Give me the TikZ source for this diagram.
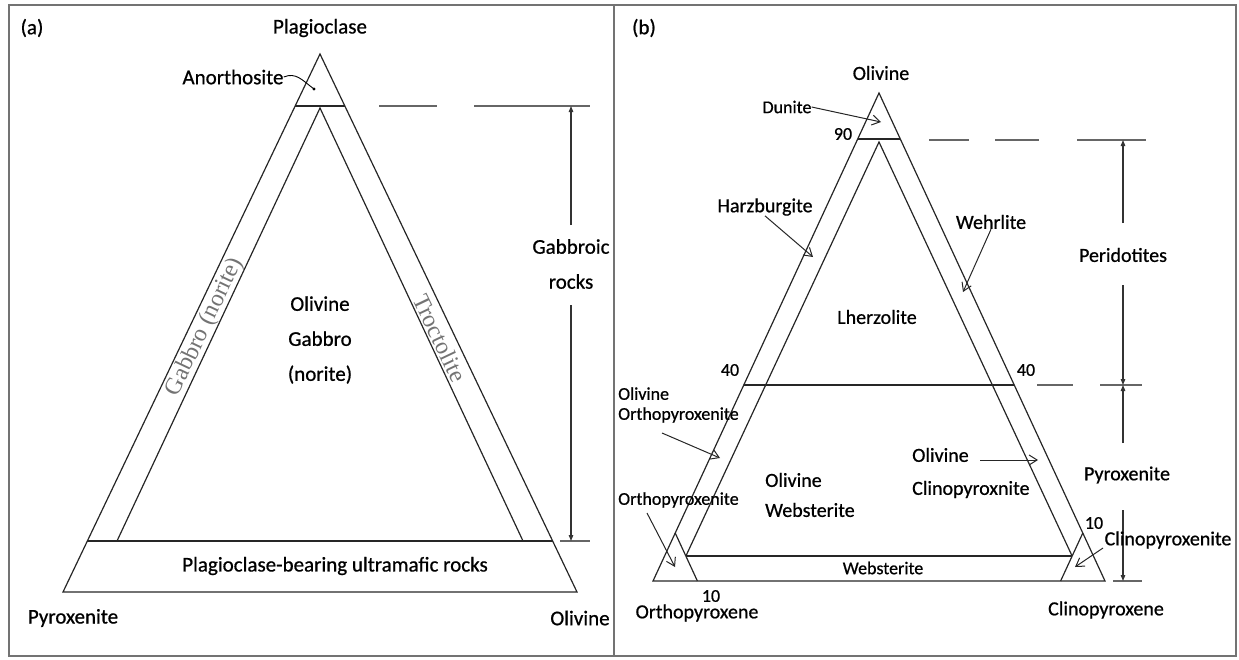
\documentclass[tikz,border=0pt]{standalone}
\usepackage{fontspec}
\setmainfont{Carlito}[FakeBold=0.7]
\newfontfamily\tnr{Liberation Serif}
\usetikzlibrary{arrows.meta}
\begin{document}
\begin{tikzpicture}[x=1pt,y=-1pt,
  tri/.style={draw=black!85, line width=1.2pt, line join=miter},
  frm/.style={draw=black!55, line width=1.6pt},
  lblA/.style={font=\fontsize{21}{35}\selectfont, inner sep=0pt, align=center},
  lblB/.style={font=\fontsize{20}{23}\selectfont, inner sep=0pt},
  lblS/.style={font=\fontsize{18}{20}\selectfont, inner sep=0pt},
  rot/.style={font=\tnr\fontsize{24}{26}\selectfont, text=black!55, inner sep=0pt},
  dim/.style={draw=black!80, line width=1.1pt},
  dimtip/.style={dim, -{Triangle[length=6pt,width=4.5pt]}},
  barb/.style={draw=black!85, line width=1pt, -{Straight Barb[length=8pt,width=10pt]}},
  dsh/.style={draw=black!60, line width=1.4pt},
]
\useasboundingbox (0,0) rectangle (1239,659);
% frames
\draw[frm] (9,5) rectangle (614,656);
\draw[frm] (614,5) rectangle (1236,656);

% ---------------- (a) ----------------
\coordinate (aA) at (320,54);
\coordinate (aL) at (63,592);
\coordinate (aR) at (577,592);
\coordinate (acL) at (295.2,106);
\coordinate (acR) at (344.8,106);
\coordinate (abL) at (87.4,541);
\coordinate (abR) at (552.6,541);
\coordinate (aiA) at (320,108);
\coordinate (aiL) at (117,541);
\coordinate (aiR) at (523,541);
\draw[tri] (aA) -- (aL) -- (aR) -- cycle;
\draw[tri] (acL) -- (acR);
\draw[tri] (abL) -- (abR);
\draw[tri] (aiL) -- (aiA) -- (aiR);
% dashed guide
\coordinate (ad1a) at (379,106); \coordinate (ad1b) at (437,106);
\coordinate (ad2a) at (474,106); \coordinate (ad2b) at (590,106);
\draw[dsh] (ad1a) -- (ad1b);
\draw[dsh] (ad2a) -- (ad2b);
\coordinate (ak1) at (560,541); \coordinate (ak2) at (590,541);
\draw[dsh] (ak1) -- (ak2);
% dimension
\coordinate (adT) at (571,106); \coordinate (adB) at (571,541);
\coordinate (ag1) at (571,225); \coordinate (ag2) at (571,305);
\draw[dimtip] (ag1) -- (adT);
\draw[dimtip] (ag2) -- (adB);
\node[lblA] (gab) at (571,264) {Gabbroic\\rocks};

\node[lblA] (alab) at (32,28) {(a)};
\node[lblA] (plag) at (320,28) {Plagioclase};
\node[lblA] (anor) at (233,77) {Anorthosite};
\coordinate (anorD) at (314,89);
\draw[line width=0.9pt] (anor.east) .. controls (296,72) and (302,80) .. (anorD);
\fill (anorD) circle (1.6);
\node[lblA] (olg) at (320,340) {Olivine\\Gabbro\\(norite)};
\node[rot, rotate=64.5] (gabn) at (205,327) {Gabbro (norite)};
\node[rot, rotate=-64.5] (troc) at (440,338) {Troctolite};
\node[lblA] (pbu) at (335,566) {Plagioclase-bearing ultramafic rocks};
\node[lblA] (pyra) at (73,618) {Pyroxenite};
\node[lblA] (oliva) at (580,618) {Olivine};

% ---------------- (b) ----------------
\coordinate (bA) at (879,93);
\coordinate (bL) at (653,581);
\coordinate (bR) at (1105,581);
\coordinate (bcL) at (857.7,139);
\coordinate (bcR) at (900.3,139);
\coordinate (biA) at (879,142);
\coordinate (biL) at (685.9,556);
\coordinate (biR) at (1072.1,556);
\coordinate (b4L) at (743.8,385);
\coordinate (b4R) at (1014.2,385);
\coordinate (bsLa) at (675.2,533);
\coordinate (bsLb) at (697.4,581);
\coordinate (bsRa) at (1082.8,533);
\coordinate (bsRb) at (1060.6,581);
\draw[tri] (bA) -- (bL) -- (bR) -- cycle;
\draw[tri] (bcL) -- (bcR);
\draw[tri] (b4L) -- (b4R);
\draw[tri] (biL) -- (biA) -- (biR);
\draw[tri] (biL) -- (biR);
\draw[tri] (bsLa) -- (bsLb);
\draw[tri] (bsRa) -- (bsRb);
% dashed guides
\coordinate (bd1a) at (929,140); \coordinate (bd1b) at (969,140);
\coordinate (bd2a) at (995,140); \coordinate (bd2b) at (1039,140);
\coordinate (bd3a) at (1077,140); \coordinate (bd3b) at (1146,140);
\draw[dsh] (bd1a) -- (bd1b);
\draw[dsh] (bd2a) -- (bd2b);
\draw[dsh] (bd3a) -- (bd3b);
\coordinate (bd4a) at (1037,385); \coordinate (bd4b) at (1073,385);
\coordinate (bd5a) at (1100,385); \coordinate (bd5b) at (1142,385);
\draw[dsh] (bd4a) -- (bd4b);
\draw[dsh] (bd5a) -- (bd5b);
\coordinate (bk1) at (1113,581); \coordinate (bk2) at (1142,581);
\draw[dsh] (bk1) -- (bk2);
% dimensions
\coordinate (bdT) at (1123,140); \coordinate (bdM) at (1123,385); \coordinate (bdB) at (1123,581);
\coordinate (bp1) at (1123,223); \coordinate (bp2) at (1123,285);
\coordinate (bq1) at (1123,443); \coordinate (bq2) at (1123,510);
\draw[dimtip] (bp1) -- (bdT);
\draw[dimtip] (bp2) -- (bdM);
\draw[dimtip] (bq1) -- (bdM);
\draw[dimtip] (bq2) -- (bdB);
\node[lblB] (perid) at (1123,255) {Peridotites};
\node[lblB] (pyrb) at (1127,475) {Pyroxenite};

\node[lblA] (blab) at (644,28) {(b)};
\node[lblB] (olivb) at (881,73) {Olivine};
\node[lblS] (dun) at (787,107) {Dunite};
\coordinate (dunT) at (881,122);
\draw[barb] (dun.east) -- (dunT);
\node[lblS] (n90) at (843,134) {90};
\node[lblB] (harz) at (765,207) {Harzburgite};
\coordinate (harzT) at (813,257);
\draw[barb] (harz.south) -- (harzT);
\node[lblB] (wehr) at (991,222) {Wehrlite};
\coordinate (wehrT) at (963,292);
\draw[barb] (wehr.south) -- (wehrT);
\node[lblB] (lherz) at (877,317) {Lherzolite};
\node[lblS] (n40a) at (730,370) {40};
\node[lblS] (n40b) at (1026,370) {40};
\node[lblS, anchor=west, align=left, font=\fontsize{18}{20}\selectfont] (oopx) at (618,405) {Olivine\\Orthopyroxenite};
\coordinate (oopxS) at (662,433); \coordinate (oopxT) at (720,458);
\draw[barb] (oopxS) -- (oopxT);
\node[lblB, anchor=west, align=left, font=\fontsize{20}{30}\selectfont] (owb) at (765,495) {Olivine\\Websterite};
\node[lblB, anchor=west, align=left, font=\fontsize{20}{33}\selectfont] (ocpx) at (912,473) {Olivine\\Clinopyroxnite};
\coordinate (ocpxS) at (980,460); \coordinate (ocpxT) at (1038,460);
\draw[barb] (ocpxS) -- (ocpxT);
\node[lblS, anchor=west] (opxt) at (618,500) {Orthopyroxenite};
\coordinate (opxS) at (647,513); \coordinate (opxT) at (675,567);
\draw[barb] (opxS) -- (opxT);
\node[lblS] (webs) at (883,568) {Websterite};
\node[lblS] (n10a) at (711,596) {10};
\node[lblB] (opxe) at (697,613) {Orthopyroxene};
\node[lblS] (n10b) at (1094,523) {10};
\node[lblB] (cpxt) at (1168,540) {Clinopyroxenite};
\coordinate (cpxS) at (1103,548); \coordinate (cpxT) at (1075,567);
\draw[barb] (cpxS) -- (cpxT);
\node[lblB] (cpxe) at (1106,610) {Clinopyroxene};
\end{tikzpicture}
\end{document}
